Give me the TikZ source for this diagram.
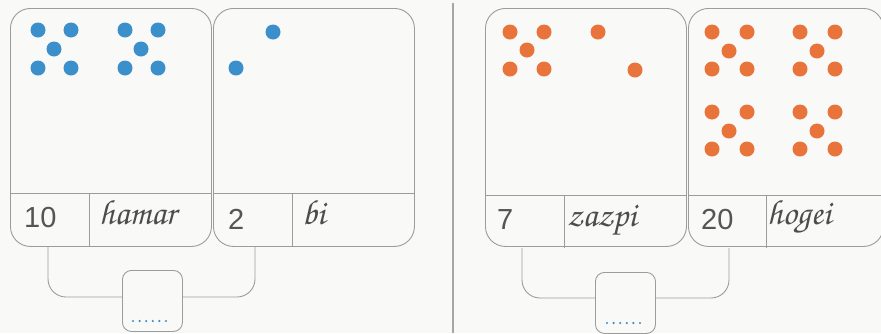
\documentclass[tikz,border=0pt]{standalone}
\usepackage[T1]{fontenc}
\usepackage{fontspec}
\setmainfont{Liberation Sans}
\usetikzlibrary{calc}
\definecolor{paper}{HTML}{F9F9F7}
\definecolor{rule}{HTML}{9C9C9C}
\definecolor{ink}{HTML}{555555}
\definecolor{dotblue}{HTML}{3B8FCB}
\definecolor{dotorange}{HTML}{E8733B}
\newcommand\handword[1]{{\fontencoding{T1}\fontfamily{pzc}\fontseries{mb}\fontshape{it}\fontsize{35}{35}\selectfont #1}}
\tikzset{
  card/.style={draw=rule, line width=0.9pt, rounded corners=20pt, minimum width=201pt, minimum height=238pt, inner sep=0pt, anchor=north west},
  answerbox/.style={draw=rule, line width=0.9pt, rounded corners=9pt, minimum width=60pt, minimum height=61pt, inner sep=0pt, anchor=north west},
  strip/.style={draw=rule, line width=0.8pt},
  link/.style={draw=rule, line width=0.9pt, rounded corners=18pt},
  numtext/.style={anchor=base west, inner sep=0pt, text=ink, font=\fontsize{29}{29}\selectfont},
  wordtext/.style={anchor=base west, inner sep=0pt, text=ink!90!black},
  sep/.style={draw=rule!90, line width=2pt},
}
\begin{document}
\begin{tikzpicture}[x=1pt, y=-1pt]
  \useasboundingbox (0,0) rectangle (881,333);
  \fill[paper] (0,0) rectangle (881,333);

  % divider between the two exercises
  \draw[sep] (453,3) -- (453,333);

  % ---- left exercise ----
  \node[card] (c1) at (10,8) {};
  \node[card] (c2) at (213,8) {};
  \draw[strip] (10,193) -- (211,193) (89,193) -- (89,246);
  \draw[strip] (213,193) -- (414,193) (292,193) -- (292,246);

  \foreach \gx in {0,87}{
    \foreach \px/\py in {38/30,71/30,54/49,38/68,71/68}{
      \fill[dotblue] (\px+\gx,\py) circle (7.5);
    }
  }
  \fill[dotblue] (273,32) circle (7.5);
  \fill[dotblue] (236,68) circle (7.5);

  \node[numtext] (n1) at (24,227) {10};
  \node[wordtext] (w1) at (99,224) {\handword{hamar}};
  \node[numtext] (n2) at (228,229) {2};
  \node[wordtext] (w2) at (302,224) {\handword{bi}};

  \node[answerbox] (b1) at (122,270) {};
  \coordinate (l1) at (48,246);
  \coordinate (r1) at (255,246);
  \draw[link] (l1) |- ($(b1.north west)+(0,27)$);
  \draw[link] ($(b1.north east)+(0,27)$) -| (r1);
  \foreach \k in {0,...,5} \fill[dotblue] (133+6.6*\k,321) circle (1.2);

  % ---- right exercise ----
  \node[card] (c3) at (485,8) {};
  \node[card, minimum width=195pt] (c4) at (688,8) {};
  \draw[strip] (485,195) -- (686,195) (564,195) -- (564,248);
  \draw[strip] (688,195) -- (883,195) (766,195) -- (766,248);

  \foreach \px/\py in {510/32,544/32,527/50,510/69,544/69,598/32,635/70}{
    \fill[dotorange] (\px,\py) circle (7.5);
  }
  \foreach \gx/\gy in {0/0,88/0,0/80,88/80}{
    \foreach \px/\py in {712/32,747/32,729/51,712/69,747/69}{
      \fill[dotorange] (\px+\gx,\py+\gy) circle (7.5);
    }
  }

  \node[numtext] (n3) at (497,229) {7};
  \node[wordtext] (w3) at (567,226) {\handword{zazpi}};
  \node[numtext] (n4) at (701,229) {20};
  \node[wordtext] (w4) at (767,224) {\handword{hogei}};

  \node[answerbox] (b2) at (595,272) {};
  \coordinate (l2) at (522,248);
  \coordinate (r2) at (729,248);
  \draw[link] (l2) |- ($(b2.north west)+(0,26)$);
  \draw[link] ($(b2.north east)+(0,26)$) -| (r2);
  \foreach \k in {0,...,5} \fill[dotblue] (607+6.6*\k,323) circle (1.2);
\end{tikzpicture}
\end{document}
